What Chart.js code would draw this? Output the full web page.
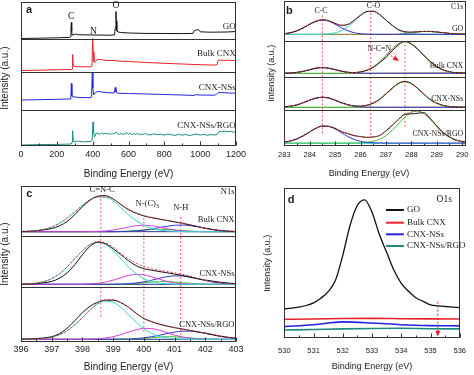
<!DOCTYPE html>
<html>
<head>
<meta charset="utf-8">
<script src="https://cdn.jsdelivr.net/npm/chart.js@4.4.1/dist/chart.umd.min.js"></script>
<style>
  html, body { margin: 0; padding: 0; background: #fff; }
  #fig { position: relative; width: 474px; height: 375px; overflow: hidden; }
  canvas { position: absolute; }
</style>
</head>
<body>
<div id="fig">
  <canvas id="chartA" width="250" height="185" style="left:0;top:0"></canvas>
  <canvas id="chartC" width="250" height="190" style="left:0;top:185px"></canvas>
  <canvas id="chartB" width="234" height="185" style="left:240px;top:0"></canvas>
  <canvas id="chartD" width="234" height="190" style="left:240px;top:185px"></canvas>
</div>
<script>
'use strict';

// ---- panel a: survey spectra, [binding energy, intensity] ----
const surveyTicks = [0, 200, 400, 600, 800, 1000, 1200];
const surveyGo = [[0,0.5],[100,0.8],[200,1.2],[270,1.6],[276,2.2],[279,10],[281,16.5],[283,8],[285,4],[295,4.2],[305,5],[315,4.3],[400,4],[500,3.8],[522,4.2],[527,12],[530,27.5],[532,18],[535,8],[542,7],[560,6.5],[600,6],[700,5.6],[800,5.5],[900,5.4],[960,5.6],[968,8.5],[980,9],[990,9.5],[1000,7.2],[1050,6.8],[1150,7],[1200,7.5]];
const surveyBulk = [[0,1.5],[100,1.8],[200,2.2],[280,2.5],[285,3],[288,17.5],[291,8],[296,5.5],[320,5.3],[390,5.2],[396,6],[400,33.5],[403,20],[407,10],[415,10],[425,12.5],[440,12.5],[480,11.5],[530,11.5],[540,11],[600,10.5],[700,9.5],[800,8.7],[900,8],[1000,7.3],[1080,6.9],[1095,7.5],[1100,11.5],[1115,12],[1140,11.5],[1160,11.8],[1200,11.3]];
const surveyNss = [[0,10],[100,10.3],[200,10.7],[278,11],[281,26.5],[284,14],[290,12.8],[300,13.2],[320,12.5],[390,12.3],[394,14],[398,37],[401,22],[406,15],[415,17.5],[430,18.5],[480,17.3],[520,17],[526,22.5],[530,18],[540,16.8],[600,16.5],[700,16],[800,15.5],[900,15],[960,14.6],[980,15.3],[1000,15],[1080,14.8],[1090,15.5],[1100,17.3],[1120,17.5],[1160,17],[1200,16.8]];
const surveyRgo = [[0,1],[50,1.2],[100,1.4],[150,1.5],[200,1.6],[250,1.8],[280,2],[285,4],[288,15.3],[291,7],[296,4.5],[320,4.8],[350,4.2],[390,4.5],[397,6],[402,24],[405,14],[410,9],[420,13],[430,12.5],[440,11.5],[450,13],[460,12],[470,12.8],[480,11.8],[490,12.5],[500,11.6],[510,12.4],[520,12],[530,14],[540,12.2],[550,11.5],[560,12.6],[570,11.4],[580,12.4],[590,13.2],[600,11.8],[610,12.6],[620,11.3],[630,12.2],[640,11.6],[650,12.8],[660,11.2],[670,12.1],[680,11.4],[690,12.6],[700,11.9],[720,11],[740,12.2],[760,11.3],[780,11.8],[800,10.9],[820,11.9],[840,11.2],[860,10.6],[880,11.6],[900,10.8],[920,11.5],[940,10.4],[960,11.3],[980,12],[1000,11],[1020,11.6],[1040,10.7],[1060,11.4],[1080,11],[1095,11.5],[1105,14.5],[1120,14.2],[1135,15],[1150,14.3],[1170,14.8],[1185,13.9],[1200,14.3]];

// ---- panel b: C1s ----
const c1sTicks = [283, 284, 285, 286, 287, 288, 289, 290];
const c1sE = [283, 283.25, 283.5, 283.75, 284, 284.25, 284.5, 284.75, 285, 285.25, 285.5, 285.75, 286, 286.25, 286.5, 286.75, 287, 287.25, 287.5, 287.75, 288, 288.25, 288.5, 288.75, 289, 289.25, 289.5, 289.75, 290, 290.25];
const c1sBaseE = [283, 286, 288, 290.25];
const c1sPeaks = [284.5, 286.4, 287.75];

const c1sGoRaw = [7.3, 8.3, 10.3, 13.2, 16.8, 19.8, 21.2, 20.3, 17.6, 15.8, 16.6, 20.8, 25.9, 29.5, 29.7, 26.4, 20.9, 15.6, 11.2, 9.2, 8.9, 9.2, 9.6, 9.5, 9.0, 8.3, 7.6, 7.2, 6.9, 6.8];
const c1sGoFit = [7.2, 8.2, 10.2, 13.1, 16.9, 20.0, 21.0, 20.0, 17.3, 15.2, 16.2, 20.4, 25.6, 29.3, 29.9, 26.7, 21.2, 15.8, 11.4, 9.3, 8.8, 9.1, 9.5, 9.5, 9.1, 8.4, 7.7, 7.2, 6.9, 6.8];
const c1sGoCC = [7.3, 8.3, 10.3, 13.2, 16.8, 19.8, 21.0, 19.8, 16.8, 13.2, 10.3, 8.3, 7.3, 6.9, 6.7, 6.7, 6.7, 6.7, 6.7, 6.7, 6.7, 6.7, 6.7, 6.7, 6.7, 6.7, 6.7, 6.7, 6.7, 6.7];
const c1sGoCO = [6.7, 6.7, 6.7, 6.7, 6.7, 6.7, 6.85, 7.2, 8.2, 10.4, 14.3, 19.7, 25.3, 29.3, 29.7, 26.4, 20.8, 15.3, 11.0, 8.5, 7.4, 6.9, 6.7, 6.7, 6.7, 6.7, 6.7, 6.7, 6.7, 6.7];
const c1sGoCOO = [6.7, 6.7, 6.7, 6.7, 6.7, 6.7, 6.7, 6.7, 6.7, 6.7, 6.7, 6.7, 6.7, 6.7, 6.7, 6.7, 6.7, 6.7, 6.9, 7.4, 8.2, 9.0, 9.6, 9.5, 9.0, 8.3, 7.6, 7.1, 6.9, 6.8];
const c1sGoBase = [6.5, 6.5, 6.5, 6.5];

const c1sBulkRaw = [4.1, 4.3, 4.9, 6.0, 7.6, 9.1, 9.8, 9.0, 7.7, 6.1, 5.1, 4.7, 5.4, 7.0, 9.9, 14.6, 19.8, 26.6, 32.6, 35.9, 33.2, 28.0, 21.6, 15.6, 10.8, 7.5, 5.6, 4.6, 4.3, 4.1];
const c1sBulkFit = [4.1, 4.3, 4.9, 6.0, 7.6, 9.1, 9.7, 9.1, 7.7, 6.1, 5.1, 4.8, 5.5, 7.2, 10.4, 15.4, 21.8, 28.5, 33.6, 35.6, 33.6, 28.5, 21.8, 15.4, 10.4, 7.2, 5.4, 4.5, 4.2, 4.1];
const c1sBulkCC = [4.1, 4.3, 4.9, 6.0, 7.6, 9.1, 9.7, 9.1, 7.6, 6.0, 4.9, 4.3, 4.1, 4.0, 4.0, 4.0, 4.0, 4.0, 4.0, 4.0, 4.0, 4.0, 4.0, 4.0, 4.0, 4.0, 4.0, 4.0, 4.0, 4.0];
const c1sBulkNCN = [4.0, 4.0, 4.0, 4.0, 4.0, 4.0, 4.0, 4.0, 4.0, 4.0, 4.2, 4.5, 5.4, 7.2, 10.4, 15.4, 21.8, 28.5, 33.6, 35.6, 33.6, 28.5, 21.8, 15.4, 10.4, 7.2, 5.4, 4.5, 4.2, 4.1];
const c1sBulkBase = [3.8, 4.0, 4.3, 4.6];

const c1sNssRaw = [3.2, 3.9, 5.1, 7.4, 9.9, 11.8, 12.8, 12.0, 9.7, 7.2, 5.3, 4.1, 3.9, 4.8, 7.0, 10.8, 16.2, 21.9, 26.8, 28.6, 26.4, 21.5, 15.6, 10.3, 6.8, 4.6, 3.5, 3.0, 2.8, 2.7];
const c1sNssFit = [3.1, 3.8, 5.2, 7.3, 9.8, 11.9, 12.7, 11.9, 9.8, 7.3, 5.2, 4.0, 3.8, 4.6, 6.7, 10.5, 15.9, 21.7, 26.5, 28.3, 26.5, 21.7, 15.9, 10.5, 6.7, 4.5, 3.4, 2.9, 2.8, 2.7];
const c1sNssCC = [3.1, 3.8, 5.2, 7.3, 9.8, 11.9, 12.7, 11.9, 9.8, 7.3, 5.2, 3.8, 3.1, 2.8, 2.7, 2.7, 2.7, 2.7, 2.7, 2.7, 2.7, 2.7, 2.7, 2.7, 2.7, 2.7, 2.7, 2.7, 2.7, 2.7];
const c1sNssNCN = [2.7, 2.7, 2.7, 2.7, 2.7, 2.7, 2.7, 2.7, 2.7, 2.7, 2.7, 2.9, 3.4, 4.5, 6.7, 10.5, 15.9, 21.7, 26.5, 28.3, 26.5, 21.7, 15.9, 10.5, 6.7, 4.5, 3.4, 2.9, 2.8, 2.7];
const c1sNssBase = [2.6, 2.7, 2.8, 2.9];

const c1sRgoRaw = [3.6, 4.8, 6.9, 10.1, 13.6, 17.6, 19.7, 19.2, 17.4, 14.0, 12.2, 10.0, 9.2, 8.3, 8.8, 10.2, 14.8, 20.5, 26.5, 31.5, 31.8, 32.5, 33.0, 27.0, 19.8, 13.0, 8.9, 5.7, 4.3, 3.4];
const c1sRgoFit = [3.5, 4.7, 6.8, 9.9, 13.8, 17.4, 19.5, 19.4, 17.2, 14.2, 12.0, 10.2, 9.0, 8.5, 8.6, 10.5, 14.5, 20.0, 26.0, 31.0, 33.8, 34.7, 32.0, 26.3, 19.5, 13.3, 8.8, 5.8, 4.2, 3.4];
const c1sRgoCC = [3.5, 4.7, 6.8, 9.9, 13.8, 17.4, 19.5, 19.3, 16.8, 13.0, 9.2, 6.3, 4.4, 3.4, 2.9, 2.8, 2.7, 2.7, 2.7, 2.7, 2.7, 2.7, 2.7, 2.7, 2.7, 2.7, 2.7, 2.7, 2.7, 2.7];
const c1sRgoNCN = [2.7, 2.7, 2.7, 2.7, 2.7, 2.7, 2.7, 2.7, 2.7, 2.7, 2.7, 2.7, 2.9, 3.4, 4.4, 6.4, 10.1, 15.4, 22.1, 28.7, 33.4, 34.6, 31.9, 26.2, 19.3, 13.1, 8.4, 5.5, 3.9, 3.2];
const c1sRgoBase = [2.4, 2.3, 2.2, 2.1];

// ---- panel c: N1s ----
const n1sTicks = [396, 397, 398, 399, 400, 401, 402, 403];
const n1sE = [396, 396.25, 396.5, 396.75, 397, 397.25, 397.5, 397.75, 398, 398.25, 398.5, 398.75, 399, 399.25, 399.5, 399.75, 400, 400.25, 400.5, 400.75, 401, 401.25, 401.5, 401.75, 402, 402.25, 402.5, 402.75, 403];
const n1sBaseE = [396, 398.5, 401, 403];
const n1sPeaks = [398.6, 400.0, 401.2];

const n1sBulkRaw = [4.1, 4.4, 4.9, 5.9, 7.2, 9.8, 14.2, 21.0, 29.0, 35.5, 39.5, 40.0, 36.8, 31.2, 26.0, 22.5, 19.8, 18.0, 16.6, 15.2, 13.8, 12.4, 10.8, 9.2, 7.4, 6.0, 5.0, 4.4, 4.0];
const n1sBulkFit = [4.2, 4.5, 5.1, 6.4, 8.7, 12.4, 17.6, 23.9, 30.4, 35.9, 39.0, 38.9, 36.5, 31.4, 26.5, 22.9, 20.2, 18.4, 16.9, 15.4, 14.0, 12.6, 11.0, 9.3, 7.5, 6.2, 5.2, 4.6, 4.2];
const n1sBulkCNC = [4.2, 4.5, 5.1, 6.4, 8.7, 12.4, 17.6, 23.9, 30.4, 35.8, 38.7, 38.4, 34.9, 28.0, 21.0, 15.0, 10.5, 7.5, 5.8, 4.8, 4.3, 4.1, 4.0, 4.0, 4.0, 4.0, 4.0, 4.0, 4.0];
const n1sBulkNC3 = [4.0, 4.0, 4.0, 4.0, 4.0, 4.0, 4.0, 4.0, 4.0, 4.1, 4.3, 4.7, 5.6, 7.0, 8.6, 10.0, 10.5, 10.0, 8.6, 7.0, 5.6, 4.7, 4.3, 4.1, 4.0, 4.0, 4.0, 4.0, 4.0];
const n1sBulkNH = [4.0, 4.0, 4.0, 4.0, 4.0, 4.0, 4.0, 4.0, 4.0, 4.0, 4.0, 4.0, 4.0, 4.1, 4.3, 4.8, 5.5, 6.7, 8.1, 9.4, 10.4, 10.7, 10.1, 8.9, 7.5, 6.2, 5.2, 4.6, 4.2];
const n1sBulkPi = [4.0, 4.0, 4.0, 4.0, 4.0, 4.0, 4.0, 4.0, 4.0, 4.0, 4.0, 4.0, 4.0, 4.3, 4.6, 5.1, 5.7, 6.2, 6.4, 6.2, 5.7, 5.1, 4.6, 4.3, 4.0, 4.0, 4.0, 4.0, 4.0];
const n1sBulkBase = [4.0, 4.0, 4.0, 4.0];

const n1sNssRaw = [2.5, 2.7, 3.1, 4.0, 5.3, 8.5, 13.8, 22.0, 32.0, 40.5, 44.5, 43.0, 38.0, 32.0, 26.0, 21.0, 18.0, 16.5, 15.2, 14.0, 12.6, 11.2, 9.6, 8.0, 6.6, 5.5, 4.5, 3.6, 3.0];
const n1sNssFit = [2.6, 2.9, 3.6, 5.2, 8.1, 12.9, 19.7, 27.9, 36.0, 42.4, 45.2, 44.0, 39.5, 33.5, 28.0, 23.5, 20.3, 18.0, 16.5, 15.2, 13.9, 12.4, 10.6, 8.4, 6.4, 4.8, 3.7, 3.0, 2.7];
const n1sNssCNC = [2.6, 2.9, 3.6, 5.2, 8.1, 12.9, 19.7, 27.9, 36.0, 42.1, 44.4, 42.1, 36.0, 27.9, 19.7, 12.9, 8.1, 5.2, 3.6, 2.9, 2.6, 2.45, 2.4, 2.4, 2.4, 2.4, 2.4, 2.4, 2.4];
const n1sNssNC3 = [2.4, 2.4, 2.4, 2.4, 2.4, 2.4, 2.4, 2.4, 2.4, 2.75, 3.4, 4.6, 6.5, 9.0, 11.2, 12.4, 11.9, 9.95, 7.5, 5.25, 3.75, 2.9, 2.6, 2.4, 2.4, 2.4, 2.4, 2.4, 2.4];
const n1sNssNH = [2.4, 2.4, 2.4, 2.4, 2.4, 2.4, 2.4, 2.4, 2.4, 2.4, 2.4, 2.4, 2.4, 2.7, 3.0, 3.7, 4.9, 6.5, 8.4, 10.0, 10.9, 10.8, 9.7, 8.0, 6.2, 4.6, 3.6, 2.9, 2.6];
const n1sNssPi = [2.4, 2.4, 2.4, 2.4, 2.4, 2.4, 2.4, 2.4, 2.4, 2.4, 2.4, 2.4, 2.4, 2.4, 2.8, 3.2, 3.8, 4.5, 5.0, 5.0, 4.6, 4.0, 3.4, 2.9, 2.6, 2.4, 2.4, 2.4, 2.4];
const n1sNssBase = [2.4, 2.4, 2.4, 2.4];

const n1sRgoRaw = [2.5, 2.7, 3.0, 3.8, 5.0, 8.0, 13.5, 21.0, 29.0, 35.5, 39.5, 41.5, 41.5, 39.0, 34.5, 28.5, 23.2, 20.0, 17.5, 15.7, 14.0, 12.7, 11.3, 9.8, 8.5, 7.0, 5.5, 4.4, 3.6];
const n1sRgoFit = [2.4, 2.5, 2.7, 3.3, 4.5, 6.9, 10.9, 16.9, 24.2, 31.9, 38.3, 41.9, 42.0, 39.1, 34.4, 28.0, 23.5, 20.3, 17.8, 15.8, 14.2, 12.8, 11.4, 10.0, 8.7, 7.2, 5.6, 4.4, 3.6];
const n1sRgoCNC = [2.4, 2.5, 2.7, 3.3, 4.5, 6.9, 10.9, 16.8, 24.1, 31.7, 37.8, 40.6, 39.4, 34.4, 27.1, 19.6, 13.0, 8.3, 5.3, 3.7, 2.9, 2.6, 2.4, 2.4, 2.4, 2.4, 2.4, 2.4, 2.4];
const n1sRgoNC3 = [2.4, 2.4, 2.4, 2.4, 2.4, 2.4, 2.4, 2.4, 2.4, 2.6, 2.9, 3.7, 5.0, 7.1, 9.6, 11.9, 13.3, 13.1, 11.5, 9.1, 6.6, 4.7, 3.5, 2.8, 2.55, 2.4, 2.4, 2.4, 2.4];
const n1sRgoNH = [2.4, 2.4, 2.4, 2.4, 2.4, 2.4, 2.4, 2.4, 2.4, 2.4, 2.4, 2.4, 2.4, 2.6, 2.7, 3.1, 3.9, 5.0, 6.4, 8.1, 9.6, 10.5, 10.6, 9.8, 8.4, 6.8, 5.2, 4.0, 3.3];
const n1sRgoPi = [2.4, 2.4, 2.4, 2.4, 2.4, 2.4, 2.4, 2.4, 2.4, 2.4, 2.4, 2.4, 2.4, 2.4, 2.4, 2.9, 3.3, 3.9, 4.6, 5.0, 4.9, 4.4, 3.8, 3.2, 2.8, 2.55, 2.4, 2.4, 2.4];
const n1sRgoBase = [2.4, 2.4, 2.4, 2.4];

// ---- panel d: O1s ----
const o1sTicks = [530, 531, 532, 533, 534, 535, 536];
const o1sE = [530, 530.25, 530.5, 530.75, 531, 531.25, 531.5, 531.75, 532, 532.25, 532.5, 532.75, 533, 533.25, 533.5, 533.75, 534, 534.25, 534.5, 534.75, 535, 535.25, 535.5, 535.75, 536];
const o1sGo = [29.3, 30.2, 31.2, 32.8, 35.5, 40.0, 46.6, 58.0, 83.0, 113.0, 133.0, 138.5, 126.0, 104.0, 86.0, 68.0, 55.0, 47.0, 40.5, 37.0, 33.5, 32.5, 31.8, 31.2, 30.6];
const o1sFlatE = [530, 531, 532, 533, 534, 535, 536];
const o1sBulk = [19.0, 19.3, 19.8, 19.9, 19.6, 19.4, 19.3];
const o1sNss = [11.7, 13.6, 16.4, 15.3, 13.6, 12.7, 12.4];
const o1sRgo = [8.3, 8.8, 9.4, 9.8, 10.0, 9.6, 9.4];
const sampleNames = ['GO', 'Bulk CNX', 'CNX-NSs', 'CNX-NSs/RGO'];

// ---- look ----
const SANS = '"Liberation Sans", Arial, sans-serif';
const SERIF = '"Liberation Serif", "Times New Roman", serif';
const INK = '#1a1a1a';
const C_GO = '#111111', C_BULK = '#e8202a', C_NSS = '#2424dc', C_RGO = '#1d8a7e';
const C_FIT = '#e03a3a', C_CC = '#3434c4', C_CYAN = '#38d6d6', C_GREEN = '#3cc23c';
const C_MAG = '#d83cd8', C_OLIVE = '#8e8a3c', C_NAVY = '#2c2c86', C_GUIDE = '#ec5a5a';

function series(xs, ys, off, color, extra) {
  return Object.assign({
    data: xs.map((x, i) => ({ x: x, y: ys[i] + off })),
    borderColor: color, borderWidth: 1, pointRadius: 0, fill: false,
    cubicInterpolationMode: 'monotone'
  }, extra || {});
}

function survey(list, off, color) {
  return {
    data: list.map(p => ({ x: p[0], y: p[1] + off })),
    borderColor: color, borderWidth: 1, pointRadius: 0, fill: false, tension: 0
  };
}

function guide(e, lo, hi) {
  return {
    data: [{ x: e, y: lo }, { x: e, y: hi }],
    borderColor: C_GUIDE, borderWidth: 1, borderDash: [2, 2], pointRadius: 0, fill: false
  };
}

// frame, sub-panel separators, inward ticks, labels and arrows
const framePlugin = {
  id: 'frame',
  afterDatasetsDraw(chart, args, opts) {
    const ctx = chart.ctx, a = chart.chartArea;
    const xs = chart.scales.x, ys = chart.scales.y;
    const L = Math.round(a.left) + 0.5, R = Math.round(a.right) - 0.5;
    const T = Math.round(a.top) + 0.5, B = Math.round(a.bottom) - 0.5;
    ctx.save();
    ctx.strokeStyle = '#333';
    ctx.lineWidth = 1;
    ctx.strokeRect(L, T, R - L, B - T);
    ctx.beginPath();
    (opts.separators || []).forEach(v => {
      const py = Math.round(ys.getPixelForValue(v)) + 0.5;
      ctx.moveTo(L, py); ctx.lineTo(R, py);
    });
    const major = xs.ticks.map(t => t.value);
    major.forEach((v, i) => {
      const px = Math.round(xs.getPixelForValue(v)) + 0.5;
      ctx.moveTo(px, B); ctx.lineTo(px, B - 4);
      if (i < major.length - 1) {
        const pm = Math.round(xs.getPixelForValue((v + major[i + 1]) / 2)) + 0.5;
        ctx.moveTo(pm, B); ctx.lineTo(pm, B - 2);
      }
    });
    ctx.stroke();

    (opts.arrows || []).forEach(ar => {
      const x1 = xs.getPixelForValue(ar.from[0]), y1 = ys.getPixelForValue(ar.from[1]);
      const x2 = xs.getPixelForValue(ar.to[0]), y2 = ys.getPixelForValue(ar.to[1]);
      const ang = Math.atan2(y2 - y1, x2 - x1), c = Math.cos(ang), s = Math.sin(ang);
      ctx.strokeStyle = C_BULK; ctx.fillStyle = C_BULK; ctx.lineWidth = 1;
      ctx.setLineDash([2, 2]);
      ctx.beginPath(); ctx.moveTo(x1, y1); ctx.lineTo(x2 - 5 * c, y2 - 5 * s); ctx.stroke();
      ctx.setLineDash([]);
      ctx.beginPath(); ctx.moveTo(x2, y2);
      ctx.lineTo(x2 - 6 * c + 2.5 * s, y2 - 6 * s - 2.5 * c);
      ctx.lineTo(x2 - 6 * c - 2.5 * s, y2 - 6 * s + 2.5 * c);
      ctx.closePath(); ctx.fill();
    });

    (opts.legend || []).forEach(it => {
      const py = ys.getPixelForValue(it.y);
      ctx.strokeStyle = it.color; ctx.lineWidth = 2;
      ctx.beginPath();
      ctx.moveTo(xs.getPixelForValue(it.x0), py); ctx.lineTo(xs.getPixelForValue(it.x1), py);
      ctx.stroke();
      ctx.fillStyle = INK; ctx.font = it.font; ctx.textAlign = 'left'; ctx.textBaseline = 'middle';
      ctx.fillText(it.text, xs.getPixelForValue(it.x1) + 3, py);
    });

    (opts.texts || []).forEach(t => {
      const px = xs.getPixelForValue(t.x), py = ys.getPixelForValue(t.y);
      ctx.fillStyle = t.color || INK;
      ctx.textBaseline = 'middle';
      ctx.font = t.font;
      if (t.sub) {
        const w1 = ctx.measureText(t.text).width;
        ctx.font = t.subFont;
        const w2 = ctx.measureText(t.sub).width;
        const x0 = px - (w1 + w2) / 2;
        ctx.textAlign = 'left';
        ctx.font = t.font; ctx.fillText(t.text, x0, py);
        ctx.font = t.subFont; ctx.fillText(t.sub, x0 + w1, py + 3);
      } else {
        ctx.textAlign = t.align || 'center';
        ctx.fillText(t.text, px, py);
      }
    });
    ctx.restore();
  }
};

function makeChart(id, o) {
  return new Chart(document.getElementById(id), {
    type: 'line',
    data: { datasets: o.datasets },
    options: {
      responsive: false, animation: false, devicePixelRatio: 1,
      layout: { padding: o.padding },
      plugins: { legend: { display: false }, tooltip: { enabled: false }, frame: o.frame },
      scales: {
        x: {
          type: 'linear', min: o.xMin, max: o.xMax,
          afterBuildTicks: s => { s.ticks = o.ticks.map(v => ({ value: v })); },
          afterFit: s => { s.height = o.xHeight; },
          grid: { display: false, drawTicks: false }, border: { display: false },
          ticks: { font: { family: SANS, size: o.tickSize }, color: '#222', padding: o.tickPad,
                   maxRotation: 0, autoSkip: false, callback: v => String(v) },
          title: { display: true, text: o.xTitle, color: '#222',
                   font: { family: SANS, size: o.titleSize }, padding: { top: 0, bottom: o.titlePad } }
        },
        y: {
          min: 0, max: o.yMax,
          afterFit: s => { s.width = o.yWidth; },
          grid: { display: false, drawTicks: false }, border: { display: false },
          ticks: { display: false },
          title: { display: true, text: o.yTitle, color: '#222',
                   font: { family: SANS, size: o.titleSize, lineHeight: 1 }, padding: { top: o.yTitlePad, bottom: 0 } }
        }
      }
    },
    plugins: [framePlugin]
  });
}

const NB = '\u00a0';
const X_TITLE = 'Binding Energy (eV)';
const Y_TITLE = 'Intensity (a.u.)';

// ---------- panel a ----------
const bandA = { go: 107, bulk: 74, nss: 36, rgo: 0 };
const labA = '9px ' + SERIF;
makeChart('chartA', {
  padding: { left: 0, top: 2, right: 14, bottom: 0 },
  xMin: 0, xMax: 1200, ticks: surveyTicks, xHeight: 39, yWidth: 21, yMax: 144,
  tickSize: 9, tickPad: 3, titleSize: 10, titlePad: 5, yTitlePad: 0,
  xTitle: X_TITLE, yTitle: Y_TITLE + NB + NB + NB,
  datasets: [
    survey(surveyGo, bandA.go, C_GO),
    survey(surveyBulk, bandA.bulk, C_BULK),
    survey(surveyNss, bandA.nss, C_NSS),
    survey(surveyRgo, bandA.rgo, C_RGO)
  ],
  frame: {
    separators: [bandA.nss, bandA.bulk, bandA.go],
    texts: [
      { text: 'a', x: 45, y: 136.5, font: 'bold 11px ' + SANS },
      { text: 'C', x: 280, y: 129.3, font: '9.5px ' + SERIF },
      { text: 'N', x: 404, y: 115, font: '9.5px ' + SERIF },
      { text: 'O', x: 530, y: 140.5, font: '9.5px ' + SERIF },
      { text: sampleNames[0], x: 1198, y: 119, align: 'right', font: labA },
      { text: sampleNames[1], x: 1198, y: 92.7, align: 'right', font: labA },
      { text: sampleNames[2], x: 1198, y: 58.7, align: 'right', font: labA },
      { text: sampleNames[3], x: 1198, y: 20.7, align: 'right', font: labA }
    ]
  }
});

// ---------- panel b ----------
const bandB = { go: 104.7, bulk: 68.4, nss: 35.7, rgo: 0 };
const labB = '7.8px ' + SERIF;
makeChart('chartB', {
  padding: { left: 0, top: 1, right: 8, bottom: 0 },
  xMin: 283, xMax: 290.15, ticks: c1sTicks, xHeight: 39.3, yWidth: 44.3, yMax: 144.7,
  tickSize: 7.5, tickPad: 5, titleSize: 9, titlePad: 6, yTitlePad: 27,
  xTitle: X_TITLE + NB.repeat(5), yTitle: Y_TITLE,
  datasets: [
    series(c1sE, c1sGoFit, bandB.go, C_FIT, { borderDash: [2, 2] }),
    series(c1sE, c1sGoRaw, bandB.go, C_GO),
    series(c1sE, c1sGoCC, bandB.go, C_CC),
    series(c1sE, c1sGoCO, bandB.go, C_CYAN),
    series(c1sE, c1sGoCOO, bandB.go, C_OLIVE),
    series(c1sBaseE, c1sGoBase, bandB.go, C_OLIVE),

    series(c1sE, c1sBulkFit, bandB.bulk, C_FIT, { borderDash: [2, 2] }),
    series(c1sE, c1sBulkRaw, bandB.bulk, C_GO),
    series(c1sE, c1sBulkCC, bandB.bulk, C_CC),
    series(c1sE, c1sBulkNCN, bandB.bulk, C_GREEN),
    series(c1sBaseE, c1sBulkBase, bandB.bulk, C_OLIVE),

    series(c1sE, c1sNssFit, bandB.nss, C_FIT, { borderDash: [2, 2] }),
    series(c1sE, c1sNssRaw, bandB.nss, C_GO),
    series(c1sE, c1sNssCC, bandB.nss, C_CC),
    series(c1sE, c1sNssNCN, bandB.nss, C_GREEN),
    series(c1sBaseE, c1sNssBase, bandB.nss, C_OLIVE),

    series(c1sE, c1sRgoFit, bandB.rgo, C_FIT, { borderDash: [2, 2] }),
    series(c1sE, c1sRgoRaw, bandB.rgo, C_GO),
    series(c1sE, c1sRgoCC, bandB.rgo, C_CC),
    series(c1sE, c1sRgoNCN, bandB.rgo, C_GREEN),
    series(c1sBaseE, c1sRgoBase, bandB.rgo, C_CYAN),

    guide(c1sPeaks[0], 12.4, 132.4),
    guide(c1sPeaks[1], 10.7, 134),
    guide(c1sPeaks[2], 19, 104)
  ],
  frame: {
    separators: [bandB.nss, bandB.bulk, bandB.go],
    arrows: [{ from: [287.06, 92.4], to: [287.51, 84.7] }],
    texts: [
      { text: 'b', x: 283.2, y: 134.7, font: 'bold 11px ' + SANS },
      { text: 'C-C', x: 284.44, y: 135, font: labB },
      { text: 'C-O', x: 286.51, y: 139.7, font: labB },
      { text: 'N-C=N', x: 286.74, y: 97.2, font: labB },
      { text: 'C1s', x: 290.04, y: 139, align: 'right', font: labB },
      { text: sampleNames[0], x: 290.04, y: 116.4, align: 'right', font: labB },
      { text: sampleNames[1], x: 290.04, y: 80, align: 'right', font: labB },
      { text: sampleNames[2], x: 290.04, y: 46.4, align: 'right', font: labB },
      { text: sampleNames[3], x: 290.04, y: 11.7, align: 'right', font: labB }
    ]
  }
});

// ---------- panel c ----------
const bandC = { bulk: 106, nss: 55, rgo: 0 };
const labC = '8.5px ' + SERIF;
makeChart('chartC', {
  padding: { left: 0, top: 1, right: 14, bottom: 0 },
  xMin: 396, xMax: 403, ticks: n1sTicks, xHeight: 33.3, yWidth: 21, yMax: 155.7,
  tickSize: 9, tickPad: 2, titleSize: 10, titlePad: 2, yTitlePad: 0,
  xTitle: X_TITLE, yTitle: NB.repeat(7) + Y_TITLE,
  datasets: [
    series(n1sE, n1sBulkFit, bandC.bulk, C_FIT, { borderDash: [2, 2] }),
    series(n1sE, n1sBulkRaw, bandC.bulk, C_GO),
    series(n1sE, n1sBulkCNC, bandC.bulk, C_CYAN),
    series(n1sE, n1sBulkNC3, bandC.bulk, C_MAG),
    series(n1sE, n1sBulkNH, bandC.bulk, C_CC),
    series(n1sE, n1sBulkPi, bandC.bulk, C_GREEN),
    series(n1sBaseE, n1sBulkBase, bandC.bulk, C_NAVY),

    series(n1sE, n1sNssFit, bandC.nss, C_FIT, { borderDash: [2, 2] }),
    series(n1sE, n1sNssRaw, bandC.nss, C_GO),
    series(n1sE, n1sNssCNC, bandC.nss, C_CYAN),
    series(n1sE, n1sNssNC3, bandC.nss, C_MAG),
    series(n1sE, n1sNssNH, bandC.nss, C_CC),
    series(n1sE, n1sNssPi, bandC.nss, C_GREEN),
    series(n1sBaseE, n1sNssBase, bandC.nss, C_NAVY),

    series(n1sE, n1sRgoFit, bandC.rgo, C_FIT, { borderDash: [2, 2] }),
    series(n1sE, n1sRgoRaw, bandC.rgo, C_GO),
    series(n1sE, n1sRgoCNC, bandC.rgo, C_CYAN),
    series(n1sE, n1sRgoNC3, bandC.rgo, C_MAG),
    series(n1sE, n1sRgoNH, bandC.rgo, C_CC),
    series(n1sE, n1sRgoPi, bandC.rgo, C_GREEN),
    series(n1sBaseE, n1sRgoBase, bandC.rgo, C_NAVY),

    guide(n1sPeaks[0], 25, 146.7),
    guide(n1sPeaks[1], 10, 123.7),
    guide(n1sPeaks[2], 6.7, 126.7)
  ],
  frame: {
    separators: [bandC.nss, bandC.bulk],
    texts: [
      { text: 'c', x: 396.27, y: 147.4, font: 'bold 11px ' + SANS },
      { text: 'C=N-C', x: 398.64, y: 151.7, font: labC },
      { text: 'N-(C)', sub: '3', x: 400.11, y: 138.4, font: labC, subFont: '6px ' + SERIF },
      { text: 'N-H', x: 401.2, y: 134, font: labC },
      { text: 'N1s', x: 402.95, y: 150, align: 'right', font: labC },
      { text: sampleNames[1], x: 402.95, y: 121.7, align: 'right', font: labC },
      { text: sampleNames[2], x: 402.95, y: 68.4, align: 'right', font: labC },
      { text: sampleNames[3], x: 402.95, y: 17.4, align: 'right', font: labC }
    ]
  }
});

// ---------- panel d ----------
const labD = '9px ' + SERIF;
makeChart('chartD', {
  padding: { left: 0, top: 3.3, right: 8.7, bottom: 0 },
  xMin: 530, xMax: 536, ticks: o1sTicks, xHeight: 36.7, yWidth: 44.3, yMax: 150,
  tickSize: 7.5, tickPad: 8, titleSize: 9, titlePad: 3, yTitlePad: 23,
  xTitle: X_TITLE, yTitle: Y_TITLE,
  datasets: [
    series(o1sE, o1sGo, 0, C_GO, { borderWidth: 1.3 }),
    series(o1sFlatE, o1sBulk, 0, C_BULK, { borderWidth: 1.6 }),
    series(o1sFlatE, o1sNss, 0, C_NSS, { borderWidth: 1.6 }),
    series(o1sFlatE, o1sRgo, 0, C_RGO, { borderWidth: 1.6 })
  ],
  frame: {
    arrows: [{ from: [535.25, 36.6], to: [535.25, 1.6] }],
    legend: [
      { text: sampleNames[0], color: C_GO, y: 128.3, x0: 533.48, x1: 534.09, font: labD },
      { text: sampleNames[1], color: C_BULK, y: 115.6, x0: 533.48, x1: 534.09, font: labD },
      { text: sampleNames[2], color: C_NSS, y: 104, x0: 533.48, x1: 534.09, font: labD },
      { text: sampleNames[3], color: C_RGO, y: 92.3, x0: 533.48, x1: 534.09, font: labD }
    ],
    texts: [
      { text: 'd', x: 530.23, y: 138.6, font: 'bold 11px ' + SANS },
      { text: 'O1s', x: 535.47, y: 139.3, font: '9.5px ' + SERIF }
    ]
  }
});
</script>
</body>
</html>
